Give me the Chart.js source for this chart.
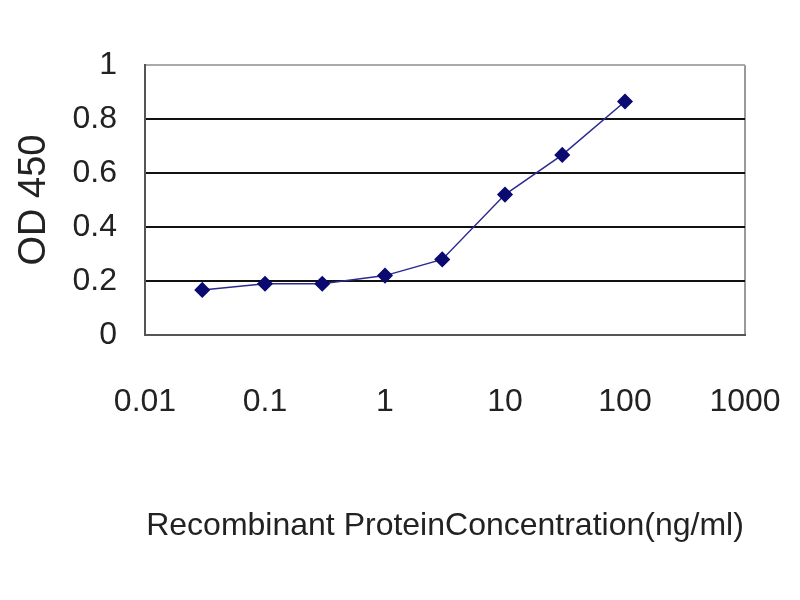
<!DOCTYPE html>
<html>
<head>
<meta charset="utf-8">
<script src="https://cdn.jsdelivr.net/npm/chart.js@4/dist/chart.umd.min.js"></script>
<style>
  html, body { margin: 0; padding: 0; background: #fff; }
  #wrap { width: 800px; height: 600px; }
</style>
</head>
<body>
<div id="wrap"><canvas id="odChart" width="800" height="600"></canvas></div>
<script>
// concentrations (ng/ml) and OD450 readings
const concentrations = [0.03, 0.1, 0.3, 1, 3, 10, 30, 100];
const odValues = [0.167, 0.19, 0.19, 0.22, 0.28, 0.52, 0.667, 0.865];
const xTicks = [0.01, 0.1, 1, 10, 100, 1000];
const yTicks = [0, 0.2, 0.4, 0.6, 0.8, 1];

const tickFont = { family: 'Liberation Sans, Arial, sans-serif', size: 32 };

const ctx = document.getElementById('odChart').getContext('2d');
const odChart = new Chart(ctx, {
    type: 'line',
    data: {
        datasets: [{
            data: concentrations.map((c, i) => ({ x: c, y: odValues[i] })),
            borderColor: '#2a2a90',
            borderWidth: 1.5,
            pointStyle: 'rectRot',
            pointRadius: 7,
            pointBackgroundColor: '#0a0a70',
            pointBorderColor: '#0a0a70',
            tension: 0,
            fill: false
        }]
    },
    options: {
        responsive: false,
        animation: false,
        layout: { padding: { left: 0, right: 55, top: 65, bottom: 0 } },
        plugins: { legend: { display: false }, tooltip: { enabled: false } },
        scales: {
            x: {
                type: 'logarithmic',
                min: 0.01,
                max: 1000,
                afterFit: function(scale) {
                    scale.height = 265;
                    scale.paddingLeft = 0;
                    scale.paddingRight = 0;
                },
                afterBuildTicks: function(scale) {
                    scale.ticks = xTicks.map(v => ({ value: v }));
                },
                ticks: {
                    color: '#222',
                    font: tickFont,
                    padding: 48,
                    maxRotation: 0,
                    callback: function(value) { return String(value); }
                },
                grid: {
                    drawTicks: false,
                    color: function(c) {
                        if (c.tick && c.tick.value === 1000) return '#999';
                        return 'rgba(0,0,0,0)';
                    },
                    lineWidth: 2
                },
                border: { display: true, color: '#555', width: 2 },
                title: {
                    display: true,
                    text: 'Recombinant ProteinConcentration(ng/ml)',
                    color: '#222',
                    font: { family: 'Liberation Sans, Arial, sans-serif', size: 32 },
                    padding: { top: 0, bottom: 55 }
                }
            },
            y: {
                min: 0,
                max: 1,
                afterFit: function(scale) { scale.width = 145; },
                afterBuildTicks: function(scale) {
                    scale.ticks = yTicks.map(v => ({ value: v }));
                },
                ticks: {
                    color: '#222',
                    font: tickFont,
                    padding: 28,
                    callback: function(value) { return String(value); }
                },
                grid: {
                    drawTicks: false,
                    color: function(c) {
                        if (!c.tick) return '#000';
                        if (c.tick.value === 1) return '#aaa';
                        if (c.tick.value === 0) return '#555';
                        return '#111';
                    },
                    lineWidth: 2
                },
                border: { display: true, color: '#555', width: 2 },
                title: {
                    display: true,
                    text: 'OD 450',
                    color: '#222',
                    font: { family: 'Liberation Sans, Arial, sans-serif', size: 38 },
                    padding: { top: 12, bottom: 0 }
                }
            }
        }
    }
});
</script>
</body>
</html>
